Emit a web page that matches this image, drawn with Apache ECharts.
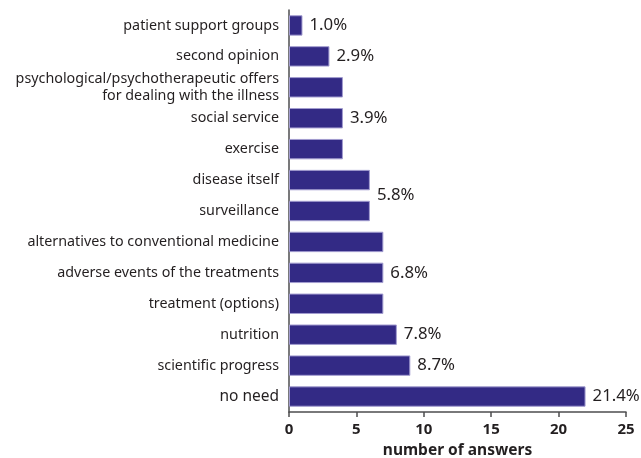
<!DOCTYPE html>
<html>
<head>
<meta charset="utf-8">
<script src="https://cdn.jsdelivr.net/npm/echarts@6/dist/echarts.min.js"></script>
<style>html,body{margin:0;padding:0;background:#fff}#c{width:641px;height:458px}</style>
</head>
<body>
<div id="c"></div>
<script>
// categories from top to bottom
const categories = [
  "patient support groups",
  "second opinion",
  "psychological/psychotherapeutic offers\nfor dealing with the illness",
  "social service",
  "exercise",
  "disease itself",
  "surveillance",
  "alternatives to conventional medicine",
  "adverse events of the treatments",
  "treatment (options)",
  "nutrition",
  "scientific progress",
  "no need"
];
const answers = [1, 3, 4, 4, 4, 6, 6, 7, 7, 7, 8, 9, 22];
// percentage labels ('' = none); the 5.8% label is shared by two bars
const percentLabels = ["1.0%", "2.9%", "", "3.9%", "", "5.8%", "", "", "6.8%", "", "7.8%", "8.7%", "21.4%"];
const sharedLabelIndex = 5;
const xTicks = [0, 5, 10, 15, 20, 25];

const FONT = "Noto Sans";
const chart = echarts.init(document.getElementById('c'), null, {renderer: 'canvas'});

const data = answers.map((v, i) => {
  const item = {value: v};
  if (percentLabels[i]) {
    item.label = {show: true, formatter: percentLabels[i]};
    if (i === sharedLabelIndex) item.label.offset = [0, 15.5];
  } else {
    item.label = {show: false};
  }
  return item;
});

const catData = categories.map((c, i) =>
  i === categories.length - 1 ? {value: c, textStyle: {fontSize: 15.5}} : c);

chart.setOption({
  animation: false,
  grid: {left: 289, right: 15, top: 10, bottom: 46, containLabel: false, outerBoundsMode: 'none'},
  xAxis: {
    type: 'value', min: xTicks[0], max: xTicks[xTicks.length - 1], interval: 5,
    name: 'number of answers', nameLocation: 'middle', nameGap: 31,
    nameTextStyle: {fontFamily: FONT, fontWeight: 'bold', fontSize: 15.5, color: '#231f20'},
    axisLine: {show: true, lineStyle: {color: '#4d4d4f', width: 1.5}},
    axisTick: {show: true, length: 5, lineStyle: {color: '#4d4d4f', width: 1.5}},
    axisLabel: {fontFamily: FONT, fontWeight: 'bold', fontSize: 15, color: '#231f20', margin: 10},
    splitLine: {show: false}
  },
  yAxis: {
    type: 'category', data: catData, inverse: true,
    axisLine: {show: true, lineStyle: {color: '#4d4d4f', width: 1.5}},
    axisTick: {show: false},
    axisLabel: {fontFamily: FONT, fontSize: 14.3, color: '#231f20', margin: 10, lineHeight: 17, align: 'right'}
  },
  series: [{
    type: 'bar', data: data, barCategoryGap: '34%',
    itemStyle: {color: '#332a85', borderColor: '#a39dd0', borderWidth: 1},
    label: {position: 'right', distance: 7, fontFamily: FONT, fontSize: 16.8, color: '#231f20'}
  }]
});
</script>
</body>
</html>
